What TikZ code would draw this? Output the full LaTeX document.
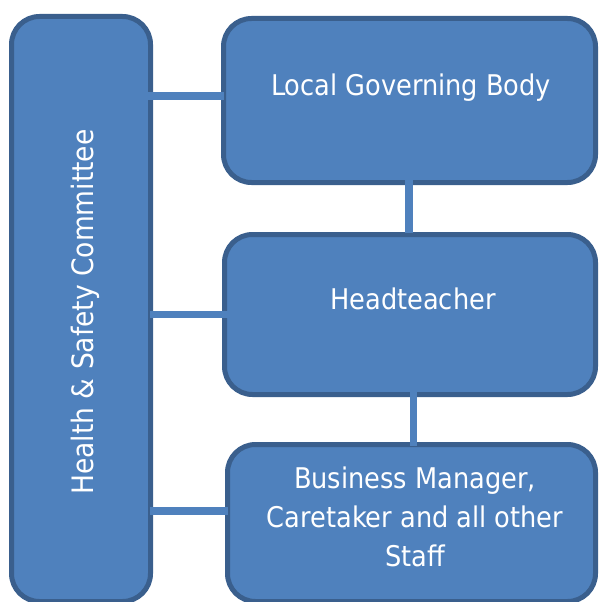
\documentclass[tikz,border=0pt]{standalone}
\usepackage{fontspec}
\setmainfont{DejaVu Sans Condensed}
\usetikzlibrary{calc}
\definecolor{boxfill}{HTML}{4F81BD}
\definecolor{boxline}{HTML}{3A5F8D}
\tikzset{
  orgbox/.style={draw=boxline, fill=boxfill, line width=5pt, rounded corners=28pt, inner sep=0pt},
  conn/.style={draw=boxfill, line width=7.5pt},
  lbl/.style={text=white, inner sep=0pt, font=\fontsize{28.5}{39}\selectfont, align=center},
}
\begin{document}
\begin{tikzpicture}[x=1pt,y=-1pt]
\useasboundingbox (0,0) rectangle (599,602);
\clip (0,0) rectangle (599,602);
\node[orgbox, minimum width=139pt, minimum height=585pt] (hsc) at (81,309) {};
\node[orgbox, minimum width=372pt, minimum height=164pt] (lgb) at (409.5,100.5) {};
\node[orgbox, minimum width=371pt, minimum height=160pt] (ht) at (410,314.5) {};
\node[orgbox, minimum width=368pt, minimum height=157pt] (bm) at (411.5,523) {};
% labels
\node[lbl, rotate=90, anchor=base, font=\fontsize{29.5}{39}\selectfont] (hsclbl) at (93,312) {Health \& Safety Committee};
\node[lbl, anchor=base] (lgblbl) at (411,95) {Local Governing Body};
\node[lbl, anchor=base] (htlbl) at (413,309) {Headteacher};
\node[lbl, anchor=base] (bmlbl) at (415,566) {Business Manager,\\Caretaker and all other\\Staff};
% connectors
\draw[conn] ($(hsc.east |- lgb.west)+(-12,-4.5)$) -- ($(lgb.west)+(3,-4.5)$);
\draw[conn] ($(hsc.east |- ht.west)+(-3,0)$) -- ($(ht.west)+(6,0)$);
\draw[conn] ($(hsc.east |- bm.west)+(-3,-12)$) -- ($(bm.west)+(3,-12)$);
\draw[conn] ($(lgb.south)+(-0.5,-12)$) -- ($(ht.north)+(-1,1)$);
\draw[conn] ($(ht.south)+(3.5,-17)$) -- ($(bm.north)+(2,4)$);
\end{tikzpicture}
\end{document}
